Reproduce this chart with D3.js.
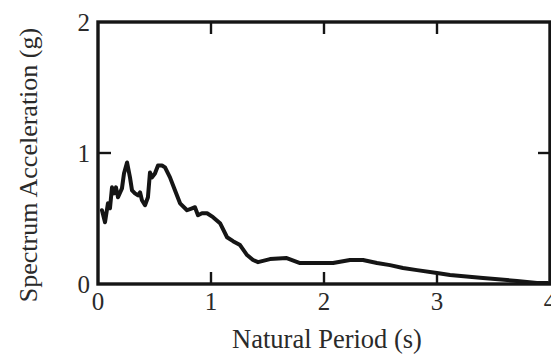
<!DOCTYPE html>
<html><head><meta charset="utf-8">
<script src="https://cdn.jsdelivr.net/npm/d3@7"></script>
<style>body{margin:0;background:#fff}svg{display:block}</style>
</head><body>
<script>
const periods = [0.035,0.062,0.088,0.106,0.124,0.142,0.159,0.177,0.212,0.230,0.257,0.283,0.301,0.327,0.354,0.372,0.389,0.416,0.442,0.460,0.478,0.504,0.531,0.566,0.593,0.637,0.681,0.726,0.788,0.832,0.858,0.885,0.920,0.965,1.018,1.080,1.142,1.195,1.257,1.319,1.372,1.416,1.522,1.670,1.788,1.938,2.080,2.230,2.345,2.469,2.584,2.699,2.823,3.000,3.115,3.407,3.708,3.885,3.980];
const accel = [0.563,0.471,0.616,0.578,0.738,0.692,0.738,0.662,0.730,0.844,0.928,0.814,0.715,0.692,0.677,0.700,0.639,0.601,0.662,0.852,0.814,0.844,0.905,0.905,0.890,0.814,0.715,0.616,0.563,0.578,0.586,0.525,0.540,0.540,0.510,0.464,0.357,0.327,0.297,0.221,0.183,0.167,0.190,0.198,0.160,0.160,0.160,0.183,0.183,0.160,0.144,0.122,0.106,0.084,0.068,0.046,0.023,0.008,0.008];
const xTicks = [0,1,2,3,4];
const yTicks = [0,1,2];
const xTitle = "Natural Period (s)";
const yTitle = "Spectrum Acceleration (g)";

const W = 551, H = 358;
const m = {l:98, t:22, r:1, b:74};
const svg = d3.select("body").append("svg").attr("width",W).attr("height",H);
const x = d3.scaleLinear().domain([0,4]).range([m.l, W-m.r]);
const y = d3.scaleLinear().domain([0,2]).range([H-m.b, m.t]);
const font = "'Liberation Serif','Times New Roman',serif";
const ink = "#151515";
const txt = "#2a2a2a";

const g = svg.append("g");
const innerX = xTicks.filter(v=>v>0&&v<4), innerY = yTicks.filter(v=>v>0&&v<2);
g.selectAll(".bt").data(innerX).join("line").attr("x1",d=>x(d)).attr("x2",d=>x(d)).attr("y1",y(0)).attr("y2",y(0)-12).attr("stroke",ink).attr("stroke-width",2.4);
g.selectAll(".tt").data(innerX).join("line").attr("x1",d=>x(d)).attr("x2",d=>x(d)).attr("y1",y(2)).attr("y2",y(2)+12).attr("stroke",ink).attr("stroke-width",2.4);
g.selectAll(".lt").data(innerY).join("line").attr("y1",d=>y(d)).attr("y2",d=>y(d)).attr("x1",x(0)).attr("x2",x(0)+13).attr("stroke",ink).attr("stroke-width",2.4);
g.selectAll(".rt").data(innerY).join("line").attr("y1",d=>y(d)).attr("y2",d=>y(d)).attr("x1",x(4)).attr("x2",x(4)-12).attr("stroke",ink).attr("stroke-width",2.4);

svg.append("rect").attr("x",x(0)).attr("y",y(2)).attr("width",x(4)-x(0)).attr("height",y(0)-y(2))
  .attr("fill","none").attr("stroke",ink).attr("stroke-width",3.4);

const line = d3.line().x((d,i)=>x(periods[i])).y(d=>y(d)).curve(d3.curveLinear);
svg.append("path").attr("d",line(accel)).attr("fill","none").attr("stroke",ink)
  .attr("stroke-width",4).attr("stroke-linejoin","round").attr("stroke-linecap","round");

svg.selectAll(".xl").data(xTicks).join("text").attr("x",d=>x(d)).attr("y",310)
  .attr("text-anchor","middle").attr("font-family",font).attr("font-size",25).attr("fill",txt).text(d=>d);
svg.selectAll(".yl").data(yTicks).join("text").attr("x",90).attr("y",d=>y(d)+9)
  .attr("text-anchor","end").attr("font-family",font).attr("font-size",25).attr("fill",txt).text(d=>d);

svg.append("text").attr("x",327).attr("y",348).attr("text-anchor","middle")
  .attr("font-family",font).attr("font-size",26.5).attr("fill",txt).text(xTitle);
svg.append("text").attr("transform","translate(37,165) rotate(-90)").attr("text-anchor","middle")
  .attr("font-family",font).attr("font-size",26).attr("fill",txt).text(yTitle);
</script>
</body></html>
